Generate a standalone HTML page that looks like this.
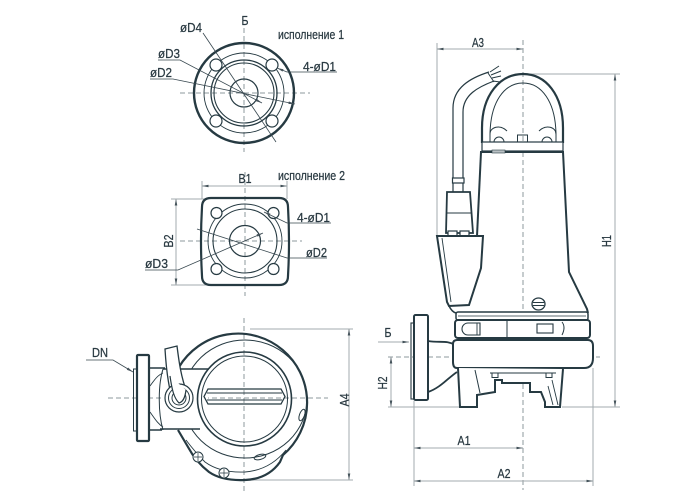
<!DOCTYPE html>
<html><head><meta charset="utf-8"><style>
html,body{margin:0;padding:0;background:#fff;}
svg{display:block}
text{font-family:"Liberation Sans Narrow","Liberation Sans",sans-serif;font-size:13px;fill:#2a3a42;stroke:#2a3a42;stroke-width:0.25}
</style></head><body>
<svg width="700" height="500" viewBox="0 0 700 500" xmlns="http://www.w3.org/2000/svg">
<defs>
<marker id="a" viewBox="0 0 10 4" refX="10" refY="2" markerWidth="7" markerHeight="2.6" markerUnits="userSpaceOnUse" orient="auto-start-reverse"><path d="M0,0L10,2L0,4z" fill="#44525a"/></marker>
</defs>

<!-- ================= CENTER / DIM LINES ================= -->
<g stroke="#8e989c" stroke-width="1" stroke-dasharray="5,3" fill="none">
  <line x1="244" y1="28" x2="244" y2="152"/>
  <line x1="180" y1="93" x2="310" y2="93"/>
  <line x1="245" y1="172" x2="245" y2="296"/>
  <line x1="180" y1="241" x2="302" y2="241"/>
  <line x1="244" y1="318" x2="244" y2="493"/>
  <line x1="108" y1="398" x2="328" y2="398"/>
  <line x1="523" y1="40" x2="523" y2="490"/>
  <line x1="388" y1="357" x2="600" y2="357"/>
</g>
<g stroke="#a3abaf" stroke-width="1" fill="none">
  <line x1="202" y1="181" x2="202" y2="199"/>
  <line x1="287" y1="181" x2="287" y2="199"/>
  <line x1="202" y1="186" x2="287" y2="186" marker-start="url(#a)" marker-end="url(#a)"/>
  <line x1="171" y1="199" x2="206" y2="199"/>
  <line x1="171" y1="285" x2="206" y2="285"/>
  <line x1="176" y1="199" x2="176" y2="285" marker-start="url(#a)" marker-end="url(#a)"/>
  <line x1="250" y1="329" x2="353" y2="329"/>
  <line x1="240" y1="480" x2="353" y2="480"/>
  <line x1="349" y1="329" x2="349" y2="480" marker-start="url(#a)" marker-end="url(#a)"/>
  <line x1="437" y1="43" x2="437" y2="236"/>
  <line x1="437" y1="49" x2="523" y2="49" marker-start="url(#a)" marker-end="url(#a)"/>
  <line x1="527" y1="74" x2="620" y2="74"/>
  <line x1="615" y1="74" x2="615" y2="407" marker-start="url(#a)" marker-end="url(#a)"/>
  <line x1="388" y1="407" x2="460" y2="407"/>
  <line x1="562" y1="407" x2="620" y2="407"/>
  <line x1="391" y1="357" x2="391" y2="407" marker-start="url(#a)" marker-end="url(#a)"/>
  <line x1="378" y1="342" x2="409" y2="342" marker-end="url(#a)"/>
  <line x1="414" y1="401" x2="414" y2="486"/>
  <line x1="593" y1="368" x2="593" y2="486"/>
  <line x1="414" y1="448" x2="523" y2="448" marker-start="url(#a)" marker-end="url(#a)"/>
  <line x1="414" y1="481" x2="593" y2="481" marker-start="url(#a)" marker-end="url(#a)"/>
</g>

<!-- ================= FLANGE 1 ================= -->
<g stroke="#263a42" fill="none">
  <circle cx="244" cy="93" r="50" stroke-width="2.4"/>
  <circle cx="244" cy="93" r="40" stroke-width="0.9"/>
  <circle cx="244" cy="93" r="33" stroke-width="1.3"/>
  <circle cx="244" cy="93" r="30" stroke-width="1.1"/>
  <circle cx="244" cy="93" r="14" stroke-width="1.2"/>
  <g fill="#fff" stroke-width="1.2">
    <circle cx="216" cy="65" r="6"/><circle cx="272" cy="65" r="6"/>
    <circle cx="216" cy="121" r="6"/><circle cx="272" cy="121" r="6"/>
  </g>
</g>
<g stroke="#37474f" stroke-width="0.8" fill="none">
  <path d="M203,33 L276,142"/>
  <path d="M158,60 L180,60 L262,103" marker-end="url(#a)"/>
  <path d="M150,79 L173,79 L295,104" marker-end="url(#a)"/>
  <path d="M337,72 L287,72 L277,68" marker-end="url(#a)"/>
</g>
<text x="245" y="25" text-anchor="middle" textLength="7" lengthAdjust="spacingAndGlyphs">Б</text>
<text x="278" y="39" textLength="66" lengthAdjust="spacingAndGlyphs">исполнение 1</text>
<text x="180" y="32" textLength="22" lengthAdjust="spacingAndGlyphs">øD4</text>
<text x="158" y="58" textLength="22" lengthAdjust="spacingAndGlyphs">øD3</text>
<text x="150" y="77" textLength="22" lengthAdjust="spacingAndGlyphs">øD2</text>
<text x="303" y="71" textLength="33" lengthAdjust="spacingAndGlyphs">4-øD1</text>

<!-- ================= FLANGE 2 ================= -->
<g stroke="#263a42" fill="none">
  <path d="M211,198 L279,198 Q288,198 288,207 Q290,241 288,276 Q288,285 279,285 L211,285 Q202,285 202,276 Q200,241 202,207 Q202,198 211,198 Z" stroke-width="2.2"/>
  <circle cx="245" cy="241" r="37" stroke-width="0.9"/>
  <circle cx="245" cy="241" r="32" stroke-width="1.1"/>
  <circle cx="245" cy="241" r="15.5" stroke-width="1.2"/>
  <g fill="#fff" stroke-width="1.2">
    <circle cx="216.5" cy="213" r="5.5"/><circle cx="273.5" cy="213" r="5.5"/>
    <circle cx="216.5" cy="269" r="5.5"/><circle cx="273.5" cy="269" r="5.5"/>
  </g>
</g>
<g stroke="#37474f" stroke-width="0.8" fill="none">
  <path d="M331,223 L287,223 L264,212" marker-end="url(#a)"/>
  <path d="M327,258 L287,258 L197,229"/>
  <path d="M145,270 L178,270 L263,233" marker-end="url(#a)"/>
</g>
<text x="245" y="183" text-anchor="middle" textLength="13" lengthAdjust="spacingAndGlyphs">B1</text>
<text x="278" y="180" textLength="67" lengthAdjust="spacingAndGlyphs">исполнение 2</text>
<text x="297" y="222" textLength="33" lengthAdjust="spacingAndGlyphs">4-øD1</text>
<text x="306" y="257" textLength="21" lengthAdjust="spacingAndGlyphs">øD2</text>
<text x="145" y="268" textLength="23" lengthAdjust="spacingAndGlyphs">øD3</text>
<text transform="translate(173,241) rotate(-90)" text-anchor="middle" textLength="13" lengthAdjust="spacingAndGlyphs">B2</text>

<!-- ================= PLAN VIEW ================= -->
<g stroke="#263a42" fill="none">
  <path d="M179,367 A69,69 0 1 1 283,455 L280,462 Q268,479 245,480 Q222,481 209,472 Q196,462 188,447 L178,430" stroke-width="2.2"/>
  <ellipse cx="245" cy="399" rx="62" ry="59" stroke-width="1"/>
  <path d="M286,450 Q270,470 245,472 Q220,473 205,462 Q195,452 186,440" stroke-width="0.9"/>
  <rect x="163" y="369" width="45" height="60" fill="#fff" stroke="none"/>
  <line x1="163" y1="369" x2="209" y2="369" stroke-width="1.5"/>
  <line x1="160" y1="429" x2="200" y2="429" stroke-width="1.5"/>
  <path d="M163,369 C158,385 158,413 163,430" stroke-width="1"/>
  <line x1="149" y1="368" x2="165" y2="368" stroke-width="1.5"/>
  <line x1="149" y1="430" x2="162" y2="430" stroke-width="1.5"/>
  <path d="M150,386 C155,379 158,375 163,373" stroke-width="0.9"/>
  <path d="M150,412 C155,419 158,424 163,427" stroke-width="0.9"/>
  <rect x="137" y="355" width="12" height="86" rx="1" fill="#fff" stroke-width="2.2"/>
  <rect x="133.5" y="369" width="3" height="62" stroke-width="1"/>
  <circle cx="244.5" cy="399" r="47" stroke-width="1.6"/>
  <circle cx="244.5" cy="399" r="43" stroke-width="1"/>
  <path d="M204,396.5 L208,389 L281,389 L285,396.5 L281,404 L208,404 Z" stroke-width="1.3"/>
  <line x1="207" y1="393" x2="282" y2="393" stroke-width="0.9"/>
  <line x1="207" y1="400" x2="282" y2="400" stroke-width="0.9"/>
  <path d="M165,349 L177,346 C179,362 181,376 186,390 L172,398 C168,384 166,366 165,349 Z" fill="#fff" stroke-width="1.3"/>
  <circle cx="179" cy="398" r="14" fill="#fff" stroke-width="1.2"/>
  <circle cx="179" cy="398" r="10.5" stroke-width="1"/>
  <circle cx="179" cy="398" r="7" stroke-width="1"/>
  <path d="M170,376 C172,390 174,398 179,403 C183,402 185,398 186,390" fill="#fff" stroke-width="1.2"/>
  <circle cx="198" cy="457" r="5" fill="#fff" stroke-width="1"/>
  <path d="M194,457 h8 M198,453 v8" stroke-width="0.7"/>
  <circle cx="224" cy="473" r="5" fill="#fff" stroke-width="1"/>
  <path d="M220,473 h8 M224,469 v8" stroke-width="0.7"/>
  <ellipse cx="302" cy="415" rx="2.5" ry="6" transform="rotate(20 302 415)" stroke-width="1"/>
  <ellipse cx="260" cy="457" rx="6" ry="2.5" transform="rotate(-15 260 457)" stroke-width="1"/>
</g>
<g stroke="#37474f" stroke-width="0.8" fill="none">
  <path d="M86,360 L113,360 L133,372" marker-end="url(#a)"/>
</g>
<text x="92" y="357" textLength="16" lengthAdjust="spacingAndGlyphs">DN</text>
<text transform="translate(349,400) rotate(-90)" text-anchor="middle" textLength="13" lengthAdjust="spacingAndGlyphs">A4</text>

<!-- ================= SIDE VIEW PUMP ================= -->
<g stroke="#263a42" fill="none">
  <path d="M482,143 L482,128 C482,95 500,74 523,74 C546,74 563,95 563,128 L563,143" stroke-width="2.2"/>
  <path d="M490,136 C490,101 505,83 523,83 C541,83 556,101 556,136" stroke-width="1"/>
  <rect x="482" y="142" width="81" height="9" fill="#fff" stroke-width="1.2"/>
  <path d="M490,142 V134 C490,127 500,124 507,131" stroke-width="1"/>
  <path d="M494,142 A5,5 0 0 1 504,142" stroke-width="1"/>
  <path d="M556,142 V134 C556,127 546,124 539,131" stroke-width="1"/>
  <path d="M552,142 A5,5 0 0 0 542,142" stroke-width="1"/>
  <rect x="517.5" y="135" width="10" height="7" stroke-width="1"/>
  <path d="M481,152 L477,236" stroke-width="2"/>
  <path d="M480,152 L563,152 L569,272 L587,309 L588,313" stroke-width="2"/>
  <rect x="492" y="150" width="13" height="3" fill="#b9c0c4" stroke-width="0.6"/>
  <ellipse cx="538.5" cy="304" rx="6.5" ry="6" stroke-width="1.3"/>
  <path d="M533,302.5 h11 M533,305.5 h11" stroke-width="0.9"/>
  <path d="M489,72 C470,78 453,88 453,108 L453,192" stroke-width="1.2"/>
  <path d="M494,81 C478,87 463,95 463,112 L463,192" stroke-width="1.2"/>
  <path d="M488,73 L494,82" stroke-width="1"/>
  <path d="M490,72 L499,66 M491,75 L501,71 M492,78 L501,76 M493,81 L500,82" stroke-width="1"/>
  <rect x="452.5" y="178" width="11.5" height="5" fill="#fff" stroke-width="1.2"/>
  <path d="M447,192 L470,192 L473,233 L446,233 Z" fill="#fff" stroke-width="1.8"/>
  <line x1="446.5" y1="213" x2="471.5" y2="213" stroke-width="0.9"/>
  <rect x="448" y="231" width="9" height="5" fill="#fff" stroke-width="1.2"/>
  <rect x="460" y="231" width="9" height="5" fill="#fff" stroke-width="1.2"/>
  <path d="M437,236 L483,236 L481,268 L469,305 L449,306 L447,302 Z" fill="#fff" stroke-width="2"/>
  <path d="M442,238 L451,302" stroke-width="0.9"/>
  <path d="M449,306 Q452,312 456,313" stroke-width="1.5"/>
  <rect x="456" y="312" width="132" height="8" rx="2" fill="#fff" stroke-width="1.5"/>
  <line x1="458" y1="316" x2="586" y2="316" stroke-width="0.8"/>
  <rect x="455" y="320" width="135" height="18" rx="3" fill="#fff" stroke-width="2"/>
  <path d="M480,323 L468,323 A6,6 0 0 0 468,335 L480,335 Z" stroke-width="1.1"/>
  <line x1="477" y1="323" x2="477" y2="335" stroke-width="0.9"/>
  <line x1="507" y1="320" x2="507" y2="338" stroke-width="1"/>
  <rect x="537" y="324" width="16" height="9" stroke-width="1.1"/>
  <path d="M562,322 Q566,327 562,335" stroke-width="1"/>
  <path d="M428,341 C440,343 447,340 455,345" stroke-width="1.8"/>
  <path d="M428,392 C440,388 448,378 457,372" stroke-width="1.8"/>
  <rect x="414" y="315" width="14" height="85" rx="1.5" fill="#fff" stroke-width="2"/>
  <rect x="411" y="323" width="3" height="76" stroke-width="1.1"/>
  <path d="M457,340 L588,340 Q593,340 593,346 L593,358 Q593,368 584,368 L457,368 Q453,368 453,362 L453,344 Q453,340 457,340 Z" fill="#fff" stroke-width="2"/>
  <path d="M458,368 L460,407 L477,407 L477,395 L495,392 L495,380 L502,380 L502,383 L530,383 L530,392 L541,392 L545,402 L545,407 L560,407 L563,369" fill="#fff" stroke-width="2"/>
  <line x1="490" y1="373" x2="556" y2="373" stroke-width="1"/>
  <rect x="492" y="373" width="6" height="4.5" stroke-width="1"/>
  <rect x="546" y="373" width="6" height="4.5" stroke-width="1"/>
  <path d="M475,370 L480,393" stroke-width="1"/>
  <path d="M552,380 L558,405 M548,386 L553,405" stroke-width="0.9"/>
</g>
<text x="478" y="47" text-anchor="middle" textLength="12" lengthAdjust="spacingAndGlyphs">A3</text>
<text transform="translate(611,241) rotate(-90)" text-anchor="middle" textLength="12" lengthAdjust="spacingAndGlyphs">H1</text>
<text x="388" y="337" text-anchor="middle" textLength="7" lengthAdjust="spacingAndGlyphs">Б</text>
<text transform="translate(387,383) rotate(-90)" text-anchor="middle" textLength="13" lengthAdjust="spacingAndGlyphs">H2</text>
<text x="464" y="445" text-anchor="middle" textLength="13" lengthAdjust="spacingAndGlyphs">A1</text>
<text x="504" y="478" text-anchor="middle" textLength="13" lengthAdjust="spacingAndGlyphs">A2</text>
</svg>
</body></html>
